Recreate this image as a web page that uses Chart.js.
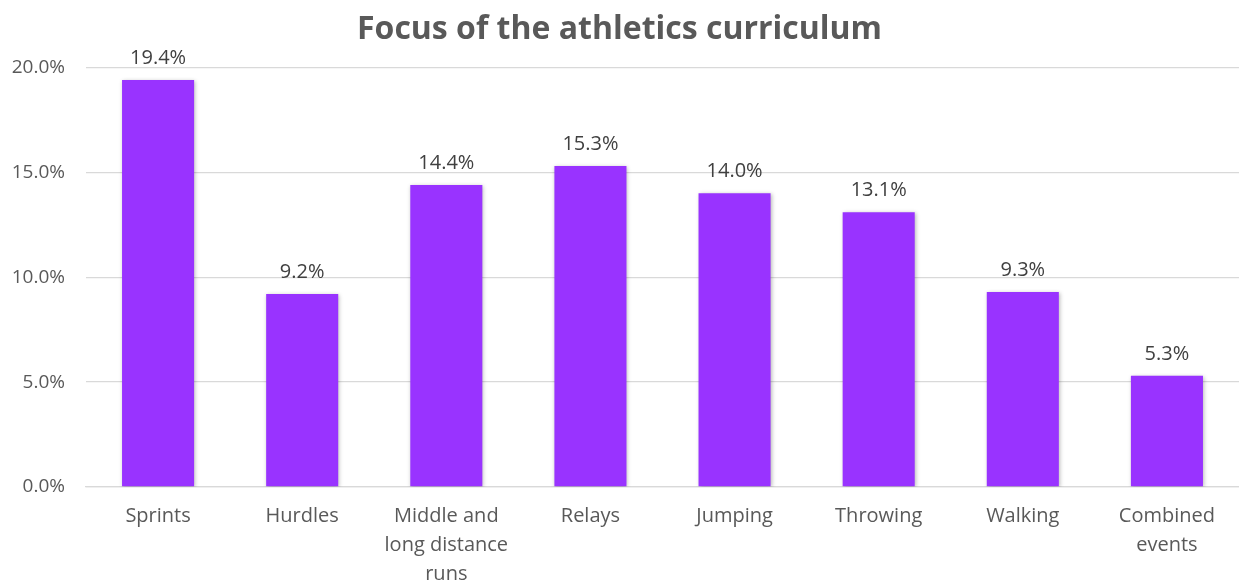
<!DOCTYPE html>
<html>
<head>
<meta charset="utf-8">
<script src="https://cdn.jsdelivr.net/npm/chart.js@4.4.1/dist/chart.umd.min.js"></script>
<style>
  html, body { margin: 0; padding: 0; background: #fff; }
  #wrap { width: 1239px; height: 583px; }
</style>
</head>
<body>
<div id="wrap"><canvas id="curriculumChart"></canvas></div>
<script>
const categories = [
    'Sprints',
    'Hurdles',
    ['Middle and', 'long distance', 'runs'],
    'Relays',
    'Jumping',
    'Throwing',
    'Walking',
    ['Combined', 'events']
];
const shares = [19.4, 9.2, 14.4, 15.3, 14.0, 13.1, 9.3, 5.3];
const yTicks = [0, 5, 10, 15, 20];

const FONT = "'Open Sans', 'Noto Sans', sans-serif";

// soft drop shadow under the bars
const barShadow = {
    id: 'barShadow',
    beforeDatasetsDraw(chart) {
        const ctx = chart.ctx;
        ctx.save();
        ctx.shadowColor = 'rgba(0,0,0,0.28)';
        ctx.shadowBlur = 4;
        ctx.shadowOffsetX = 1;
        ctx.shadowOffsetY = 1;
    },
    afterDatasetsDraw(chart) {
        chart.ctx.restore();
    }
};

// percentage labels above each bar
const valueLabels = {
    id: 'valueLabels',
    afterDatasetsDraw(chart) {
        const ctx = chart.ctx;
        const meta = chart.getDatasetMeta(0);
        ctx.save();
        ctx.font = '20px ' + FONT;
        ctx.fillStyle = '#404040';
        ctx.textAlign = 'center';
        ctx.textBaseline = 'middle';
        meta.data.forEach((bar, i) => {
            ctx.fillText(shares[i].toFixed(1) + '%', bar.x, bar.y - 22);
        });
        ctx.restore();
    }
};

const ctx = document.getElementById('curriculumChart').getContext('2d');
new Chart(ctx, {
    type: 'bar',
    data: {
        labels: categories,
        datasets: [{
            data: shares,
            backgroundColor: '#9933FF',
            borderWidth: 0,
            categoryPercentage: 0.5,
            barPercentage: 1.0
        }]
    },
    options: {
        responsive: true,
        maintainAspectRatio: false,
        animation: false,
        layout: { padding: { left: 0, right: 0, top: 0, bottom: 0 } },
        scales: {
            y: {
                min: 0,
                max: 20,
                afterBuildTicks(scale) {
                    scale.ticks = yTicks.map(v => ({ value: v }));
                },
                afterFit(scale) { scale.width = 86; },
                border: { display: false },
                grid: { color: '#d9d9d9', lineWidth: 1.3, drawTicks: false },
                ticks: {
                    padding: 21,
                    color: '#595959',
                    font: { family: FONT, size: 19 },
                    callback: v => v.toFixed(1) + '%'
                }
            },
            x: {
                afterFit(scale) { scale.height = 96; },
                border: { display: true, color: '#d9d9d9', width: 1.3 },
                grid: { display: false },
                ticks: {
                    padding: 7,
                    maxRotation: 0,
                    autoSkip: false,
                    color: '#595959',
                    font: { family: FONT, size: 20, lineHeight: 1.45 }
                }
            }
        },
        plugins: {
            legend: { display: false },
            tooltip: { enabled: false },
            title: {
                display: true,
                text: 'Focus of the athletics curriculum',
                color: '#595959',
                font: { family: FONT, size: 32, weight: 'bold', lineHeight: 1.2 },
                padding: { top: 11, bottom: 18 }
            }
        }
    },
    plugins: [barShadow, valueLabels]
});
</script>
</body>
</html>
